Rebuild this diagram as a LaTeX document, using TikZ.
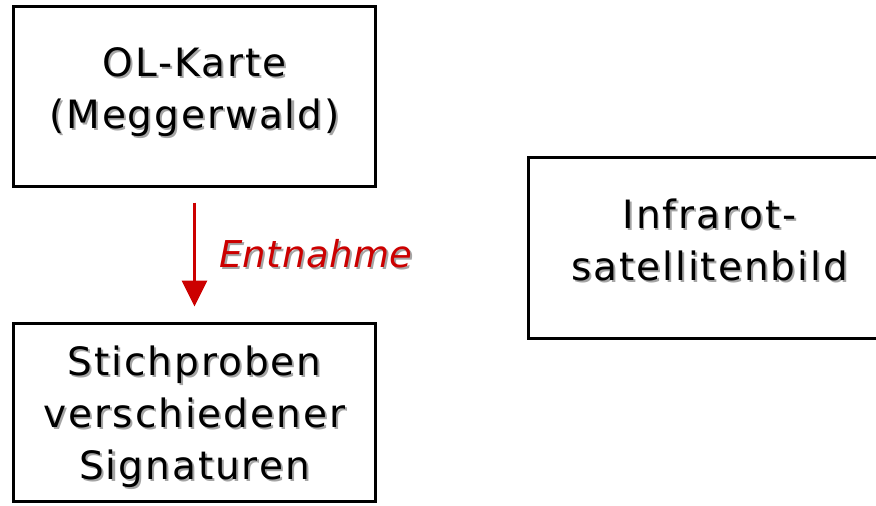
\documentclass[tikz,border=0pt]{standalone}
\usepackage{fontspec}
\setmainfont{DejaVu Sans}
\newfontfamily\boxfont[LetterSpace=5]{DejaVu Sans}
\newfontfamily\labfont[LetterSpace=1.5]{DejaVu Sans}
\usetikzlibrary{positioning,arrows.meta}
\definecolor{shgray}{RGB}{165,165,165}
\definecolor{entred}{RGB}{204,0,0}
\newcommand\shd[1]{\rlap{\kern1pt\raisebox{-1pt}{\color{shgray}#1}}#1}

\begin{document}
\begin{tikzpicture}[x=0.5pt,y=-0.5pt,>={Triangle[width=12.5pt,length=13pt]},
  box/.style={draw,line width=1.5pt,minimum width=181pt,outer sep=0pt,align=center,
    font=\boxfont\fontsize{19.5}{26}\selectfont}]
  \useasboundingbox (0,0) rectangle (876,505);
  \clip (0,0) rectangle (876,505);
  \node[box,minimum height=90pt,text depth=8.5pt] (ol) at (194.5,96.5) {\shd{OL-Karte}\\\shd{(Meggerwald)}};
  \node[box,minimum height=89pt,text depth=0pt] (stich) [below=68.5pt of ol] {\shd{Stichproben}\\\shd{verschiedener}\\\shd{Signaturen}};
  \node[box,minimum height=90.5pt,text depth=8pt] (ir) at (709.5,248) {\shd{Infrarot-}\\\shd{satellitenbild}};

  \draw[->,entred,line width=1.5pt,shorten <=8pt,shorten >=8.5pt] (ol) -- (stich)
    node[midway,right,inner sep=0pt,xshift=11.5pt,font=\labfont\itshape\fontsize{18.5}{20}\selectfont] (ent) {\shd{Entnahme}};
\end{tikzpicture}
\end{document}
